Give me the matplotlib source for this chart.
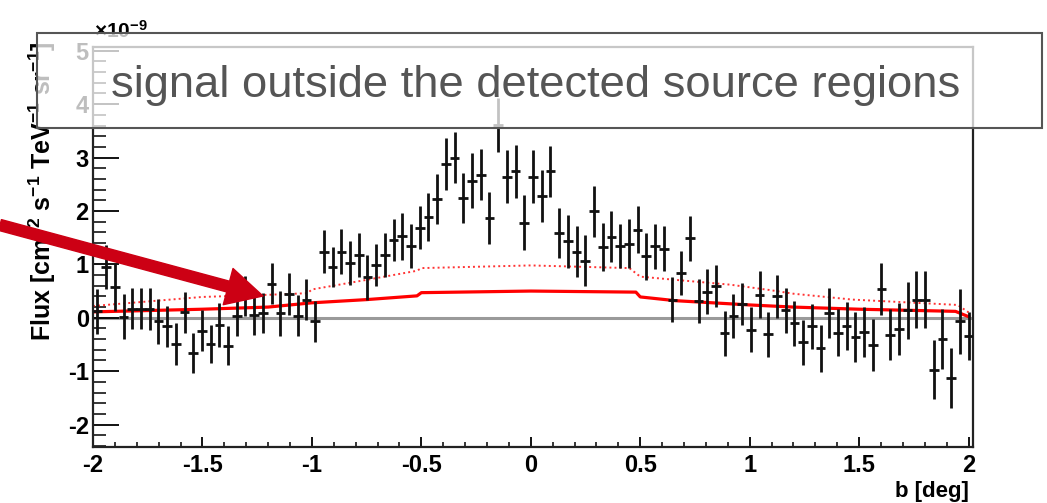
import numpy as np
import matplotlib
matplotlib.use('Agg')
import matplotlib.pyplot as plt
from matplotlib.ticker import MultipleLocator
from matplotlib.patches import Rectangle, FancyArrowPatch

plt.rcParams['font.family'] = ['Liberation Sans', 'DejaVu Sans']
plt.rcParams['mathtext.fontset'] = 'custom'
plt.rcParams['mathtext.rm'] = 'Liberation Sans:bold'
plt.rcParams['mathtext.it'] = 'Liberation Sans:bold'
plt.rcParams['mathtext.bf'] = 'Liberation Sans:bold'
plt.rcParams['mathtext.default'] = 'rm'
plt.rcParams['axes.unicode_minus'] = False

# latitude bins (deg) and measured flux (x1e-9)
b_centers = np.linspace(-1.98, 2.0, 101)
flux = [
    0.12, 0.95, 0.57, 0.02, 0.17, 0.17, 0.17, -0.07, -0.16, -0.49,
    0.10, -0.66, -0.24, -0.49, -0.13, -0.52, 0.04, 0.41, 0.06, 0.09,
    0.64, 0.08, 0.45, 0.04, 0.34, -0.07, 1.24, 0.95, 1.24, 1.03,
    1.17, 0.76, 0.99, 1.18, 1.46, 1.53, 1.34, 1.69, 1.89, 2.23,
    2.88, 3.00, 2.25, 2.57, 2.68, 1.87, 3.61, 2.64, 2.74, 1.78,
    2.64, 2.28, 2.74, 1.59, 1.43, 1.24, 1.07, 1.99, 1.32, 1.52,
    1.34, 1.39, 1.65, 1.15, 1.34, 1.29, 0.34, 0.84, 1.49, 0.31,
    0.49, 0.59, -0.29, 0.04, 0.26, -0.22, 0.43, -0.31, 0.40, 0.14,
    -0.10, -0.46, -0.16, -0.57, 0.09, -0.28, -0.16, -0.36, -0.27, -0.51,
    0.54, -0.32, -0.21, 0.14, 0.34, 0.34, -0.97, -0.40, -1.13, -0.07,
    -0.35,
]
flux_err = [
    0.42, 0.42, 0.44, 0.42, 0.38, 0.38, 0.39, 0.42, 0.38, 0.39,
    0.38, 0.38, 0.38, 0.36, 0.41, 0.36, 0.38, 0.38, 0.39, 0.38,
    0.38, 0.42, 0.39, 0.38, 0.39, 0.39, 0.41, 0.38, 0.42, 0.41,
    0.41, 0.42, 0.40, 0.41, 0.39, 0.44, 0.41, 0.41, 0.45, 0.47,
    0.48, 0.47, 0.47, 0.52, 0.48, 0.48, 0.50, 0.50, 0.50, 0.52,
    0.50, 0.48, 0.47, 0.47, 0.50, 0.47, 0.48, 0.47, 0.45, 0.47,
    0.41, 0.45, 0.44, 0.44, 0.42, 0.42, 0.42, 0.41, 0.42, 0.41,
    0.42, 0.39, 0.42, 0.41, 0.39, 0.42, 0.44, 0.42, 0.41, 0.42,
    0.42, 0.42, 0.42, 0.44, 0.47, 0.44, 0.45, 0.47, 0.47, 0.48,
    0.48, 0.48, 0.48, 0.53, 0.53, 0.53, 0.56, 0.56, 0.56, 0.61,
    0.45,
]

# model curves (red solid / red dotted)
solid_b = [-2.0, -1.5, -1.2, -1.0, -0.75, -0.52, -0.50, 0.0, 0.48, 0.50, 0.66, 1.0, 1.2, 1.5, 1.94, 2.0]
solid_y = [0.11, 0.16, 0.20, 0.28, 0.34, 0.41, 0.47, 0.50, 0.48, 0.39, 0.32, 0.24, 0.20, 0.16, 0.12, 0.02]
dotted_b = [-2.0, -1.5, -1.2, -1.02, -1.0, -0.75, -0.52, -0.50, 0.0, 0.45, 0.50, 0.66, 0.91, 1.09, 1.2, 1.47, 1.95, 2.0]
dotted_y = [0.22, 0.39, 0.43, 0.46, 0.53, 0.71, 0.88, 0.93, 0.98, 0.93, 0.77, 0.71, 0.62, 0.52, 0.45, 0.34, 0.24, 0.10]

x_ticks = [-2, -1.5, -1, -0.5, 0, 0.5, 1, 1.5, 2]
x_tick_labels = ['-2', '-1.5', '-1', '-0.5', '0', '0.5', '1', '1.5', '2']
y_ticks = [-2, -1, 0, 1, 2, 3, 4, 5]
y_tick_labels = ['-2', '-1', '0', '1', '2', '3', '4', '5']

W, H = 1047, 503
fig = plt.figure(figsize=(W / 100, H / 100), dpi=100)
ax = fig.add_axes([93 / W, 56 / H, 880 / W, 400 / H])

# zero line
ax.axhline(0, color='#9a9a9a', lw=2.2, zorder=1)

# model lines
ax.plot(solid_b, solid_y, color='red', lw=2.3, zorder=2)
ax.plot(dotted_b, dotted_y, color='red', lw=1.4, ls=(0, (1, 1.6)), alpha=0.8, zorder=2)

# data points
ax.errorbar(b_centers, flux, yerr=flux_err, xerr=0.022, fmt='none',
            ecolor='#111111', elinewidth=2.0, capsize=0, zorder=3)

ax.set_xlim(-2.0, 2.02)
ax.set_ylim(-2.42, 5.07)

ax.set_xticks(x_ticks)
ax.set_xticklabels(x_tick_labels)
ax.set_yticks(y_ticks)
ax.set_yticklabels(y_tick_labels)
ax.xaxis.set_minor_locator(MultipleLocator(0.1))
ax.yaxis.set_minor_locator(MultipleLocator(0.2))
ax.tick_params(axis='x', which='major', direction='in', length=7.5, width=1.3, pad=5)
ax.tick_params(axis='x', which='minor', direction='in', length=3.6, width=1.1)
ax.tick_params(axis='y', which='major', direction='in', length=19, width=1.3, pad=3)
ax.tick_params(axis='y', which='minor', direction='in', length=9.5, width=1.1)
for lab in ax.get_xticklabels() + ax.get_yticklabels():
    lab.set_fontsize(17)
    lab.set_fontweight('bold')
for sp in ax.spines.values():
    sp.set_linewidth(1.6)
    sp.set_color('#222222')

# axis titles (ROOT style)
fig.text(42 / W, 1 - 42 / H, r'Flux [cm$^{-2}$ s$^{-1}$ TeV$^{-1}$ sr$^{-1}$]',
         rotation=90, ha='center', va='top', fontsize=18, fontweight='bold')
fig.text(969 / W, 1 - 491 / H, 'b [deg]', ha='right', va='center',
         fontsize=16, fontweight='bold')
fig.text(94 / W, 1 - 31 / H, r'$\times10^{-9}$', ha='left', va='center', fontsize=15)

# overlay box with annotation
box = Rectangle((37 / W, 1 - 128 / H), (1042 - 37) / W, (128 - 33) / H,
                transform=fig.transFigure, facecolor=(1, 1, 1, 0.75),
                edgecolor='#555555', lw=1.5, zorder=10)
fig.add_artist(box)
fig.text(536 / W, 1 - 86 / H, 'signal outside the detected source regions',
         ha='center', va='center', fontsize=32.7, color='#555555', zorder=11)

# red arrow
arrow = FancyArrowPatch((0, 1 - 225 / H), (263 / W, 1 - 296 / H),
                        transform=fig.transFigure,
                        arrowstyle='simple,head_length=26,head_width=27,tail_width=8',
                        mutation_scale=1, color='#cc0014', shrinkA=0, shrinkB=0, zorder=12)
fig.add_artist(arrow)

plt.savefig('out.png', dpi=100)
